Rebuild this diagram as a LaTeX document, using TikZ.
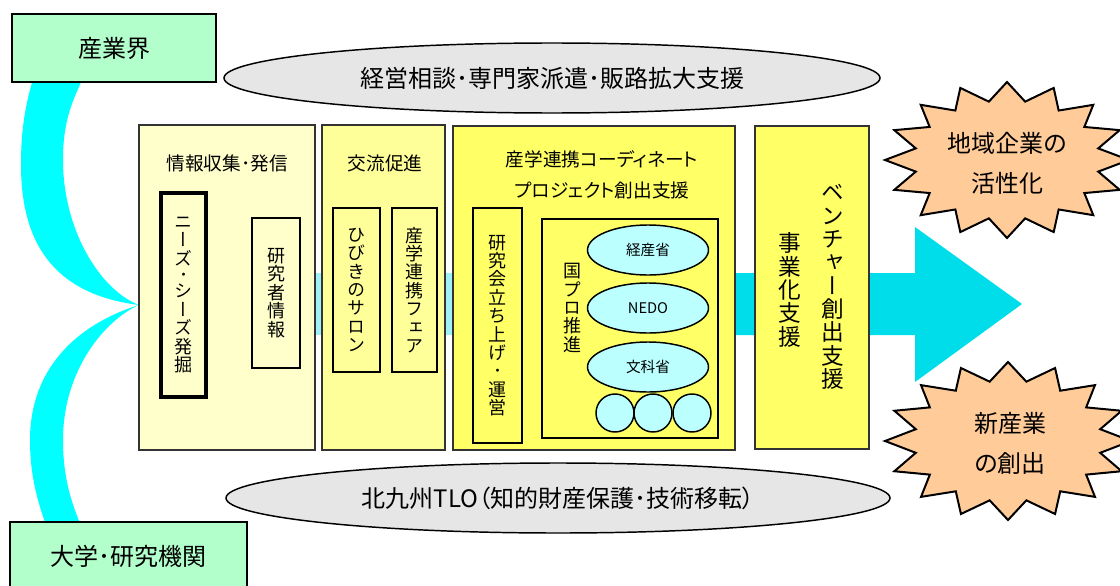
\documentclass[tikz,border=0pt]{standalone}
\usepackage{fontspec}
\setmainfont{Noto Sans CJK JP}[RawFeature={+palt}]
\newfontfamily\vfont{Noto Sans CJK JP}[RawFeature={+vert}]
\usetikzlibrary{shapes.geometric}
\definecolor{grn}{RGB}{179,255,204}
\definecolor{brc}{RGB}{0,255,255}
\definecolor{arr}{RGB}{0,221,234}
\definecolor{pale}{RGB}{160,240,246}
\definecolor{ya}{RGB}{255,255,204}
\definecolor{yb}{RGB}{255,255,153}
\definecolor{yc}{RGB}{255,255,102}
\definecolor{gry}{RGB}{230,230,230}
\definecolor{lc}{RGB}{187,255,255}
\definecolor{peach}{RGB}{255,204,153}
\begin{document}
\begin{tikzpicture}[x=0.75pt,y=-0.75pt,
 sz/.style 2 args={minimum width=#1*0.75pt,minimum height=#2*0.75pt},
 greenbox/.style={draw=black,line width=2.2pt,fill=grn,inner sep=0pt,font=\fontsize{18}{20}\selectfont},
 panel/.style={draw=black!80,line width=1pt,inner sep=0pt},
 ibox/.style={draw=black,line width=1.2pt,inner sep=0pt,align=center,font=\vfont\fontsize{13.5}{13.8}\selectfont},
 oval/.style={ellipse,draw=black,line width=1.1pt,fill=gry,inner sep=0pt,font=\fontsize{18}{20}\selectfont},
 smalloval/.style={ellipse,draw=black,line width=1.1pt,fill=lc,inner sep=0pt,font=\fontsize{11}{12}\selectfont},
 ball/.style={circle,draw=black,line width=1.1pt,fill=lc,inner sep=0pt},
 title/.style={inner sep=0pt,font=\fontsize{14}{16}\selectfont},
 vtext/.style={inner sep=0pt,align=center,font=\vfont\fontsize{13.5}{13.8}\selectfont},
 bigv/.style={inner sep=0pt,align=center,font=\vfont\fontsize{17}{17.5}\selectfont},
 startext/.style={inner sep=0pt,align=center,font=\fontsize{18}{30}\selectfont},
 starshape/.style={draw=black,line width=1.5pt,fill=peach,line join=miter},
]
\useasboundingbox (0,0) rectangle (1120,585);
\clip (0,0) rectangle (1120,585);
% cyan brace
\fill[brc] (34,76) .. controls (25,105) and (21,130) .. (21,165) .. controls (21,250) and (60,295) .. (139,305) .. controls (100,290) and (63,230) .. (63,160) .. controls (63,125) and (70,105) .. (84,76) -- cycle;
\fill[brc] (139,305) .. controls (75,325) and (30,370) .. (30,440) .. controls (30,475) and (37,500) .. (47,528) -- (82,528) .. controls (70,500) and (63,475) .. (63,440) .. controls (63,370) and (105,320) .. (139,305) -- cycle;
% big arrow
\fill[pale] (139,273) rectangle (600,335);
\fill[arr] (600,273) -- (915,273) -- (915,227) -- (1022,304) -- (915,382) -- (915,335) -- (600,335) -- cycle;
% side boxes
\node[greenbox,sz={204}{68}] (ind) at (114,48) {産業界};
\node[greenbox,sz={237}{68}] (uni) at (128.5,556) {大学･研究機関};
% ovals
\node[oval,sz={656}{70}] (top) at (552,78) {経営相談･専門家派遣･販路拡大支援};
\node[oval,sz={664}{70}] (bot) at (558,498) {北九州TLO（知的財産保護･技術移転）};
% panels
\node[panel,fill=ya,sz={176}{325}] (p1) at (227,287.5) {};
\node[panel,fill=yb,sz={123}{325}] (p2) at (383.5,287.5) {};
\node[panel,fill=yc,sz={282}{324}] (p3) at (594,288) {};
\node[panel,fill=yc,sz={114}{323}] (p4) at (812,287.5) {};
% titles
\node[title] (t1) at (227,163) {情報収集･発信};
\node[title] (t2) at (385,163) {交流促進};
\node[title] (t3a) at (602,159) {産学連携コーディネート};
\node[title] (t3b) at (602,190) {プロジェクト創出支援};
% inner boxes
\node[ibox,line width=2.4pt,sz={45}{204}] (needs) at (183.5,295) {ニ\\ー\\ズ\\[-1.5pt]･\\[-1.5pt]シ\\ー\\ズ\\発\\掘};
\node[ibox,sz={48}{150}] (res) at (276,293) {研\\究\\者\\情\\報};
\node[ibox,sz={47}{164}] (salon) at (356.5,290) {ひ\\び\\き\\の\\サ\\ロ\\ン};
\node[ibox,sz={45}{164}] (fair) at (414.5,290) {産\\学\\連\\携\\フ\\ェ\\ア};
\node[ibox,sz={49}{235}] (kenk) at (497.5,325.5) {研\\究\\会\\立\\ち\\上\\げ\\･\\運\\営};
\node[ibox,sz={176}{219}] (kuni) at (630,328.5) {};
\node[vtext] (kunit) at (572,308) {国\\プ\\ロ\\推\\進};
\node[smalloval,sz={121}{50}] (meti) at (648,250) {経産省};
\node[smalloval,sz={121}{50}] (nedo) at (648,308) {NEDO};
\node[smalloval,sz={121}{50}] (mext) at (648,367) {文科省};
\node[ball,sz={38}{38}] (c1) at (615,413) {};
\node[ball,sz={38}{38}] (c2) at (653,413) {};
\node[ball,sz={38}{38}] (c3) at (692,413) {};
% panel 4 texts
\node[bigv] (jig) at (790,290) {事\\業\\化\\支\\援};
\node[bigv] (ven) at (833,287) {ベ\\ン\\チ\\ャ\\ー\\創\\出\\支\\援};
% stars
\filldraw[starshape] plot[samples at={0,...,31},variable=\k] ({1007+(122-29*mod(\k,2))*cos(90+11.25*\k)},{160-(78-18.5*mod(\k,2))*sin(90+11.25*\k)}) -- cycle;
\filldraw[starshape] plot[samples at={0,...,31},variable=\k] ({1008+(123-29*mod(\k,2))*cos(90+11.25*\k)},{441-(79-18.5*mod(\k,2))*sin(90+11.25*\k)}) -- cycle;
\node[startext] (s1) at (1007,163) {地域企業の\\活性化};
\node[startext] (s2) at (1010,443) {新産業\\の創出};
\end{tikzpicture}
\end{document}
